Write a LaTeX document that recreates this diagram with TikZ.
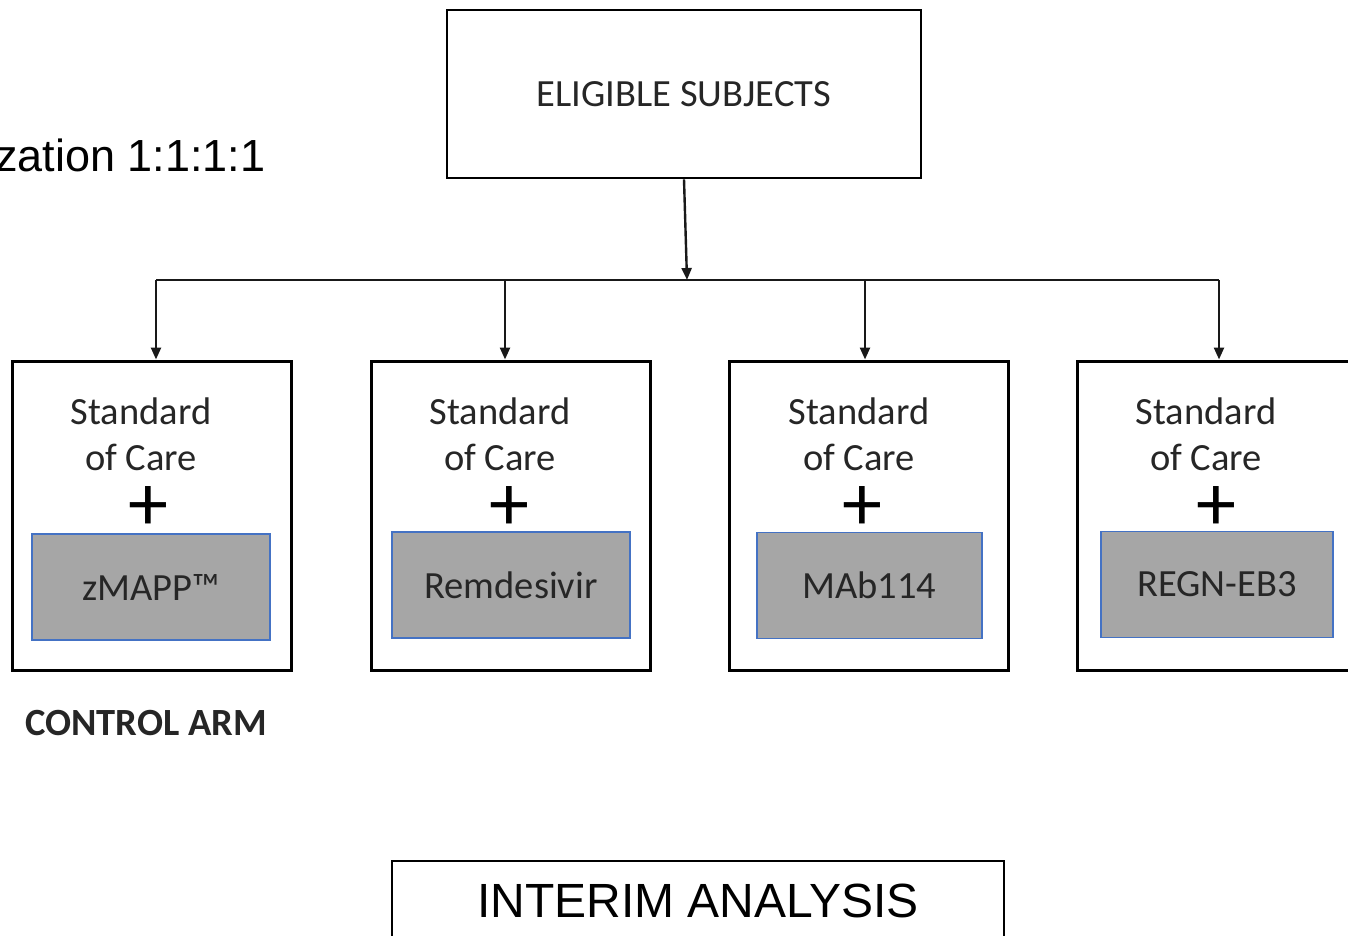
\documentclass[tikz,border=0pt]{standalone}
\usepackage{fontspec}
\setmainfont{Carlito}
\newfontfamily\arialfont{Liberation Sans}
\usetikzlibrary{arrows.meta}
\definecolor{drugfill}{HTML}{A6A6A6}
\definecolor{drugline}{HTML}{4472C4}
\definecolor{inktext}{HTML}{262626}
\tikzset{
    link/.style={line width=2.4pt, draw=black!90},
    arrowlink/.style={link, -{Triangle[length=12pt, width=10pt]}},
    topbox/.style={draw, line width=2.6pt, minimum width=474pt, minimum height=168pt,
        text=inktext, font=\fontsize{38.5}{46}\selectfont},
    armbox/.style={draw, line width=3pt, minimum width=279pt, minimum height=309pt},
    drugbox/.style={draw=drugline, line width=1.4pt, fill=drugfill, text=inktext,
        minimum width=#1, minimum height=106pt, font=\fontsize{38.5}{46}\selectfont},
    soc/.style={align=center, text=inktext, font=\fontsize{38.5}{46}\selectfont},
    plus/.style={font=\fontsize{80}{80}\selectfont, inner sep=0pt, anchor=base},
}
\begin{document}
\begin{tikzpicture}[x=1pt, y=-1pt]
    \useasboundingbox (0,0) rectangle (1348,936);
    \clip (0,0) rectangle (1348,936);
    % top of the flow
    \node[topbox] (elig) at (684,94) {ELIGIBLE SUBJECTS};
    \node[anchor=east, font=\arialfont\fontsize{45}{54}\selectfont] (rand) at (269,155) {Randomization 1:1:1:1};
    % arms
    \node[armbox] (arm1) at (151.5,515.5) {};
    \node[armbox] (arm2) at (510.5,515.5) {};
    \node[armbox] (arm3) at (869,515.5) {};
    \node[armbox] (arm4) at (1216.5,515.5) {};
    \foreach \i/\x in {1/141, 2/500, 3/859, 4/1206}{
        \node[soc] (soc\i) at (\x,434) {Standard\\of Care};
    }
    \foreach \i/\x in {1/148, 2/509, 3/862, 4/1216}{
        \node[plus] (plus\i) at (\x,530) {+};
    }
    \node[drugbox=238pt] (drug1) at (151,587) {zMAPP™};
    \node[drugbox=238pt] (drug2) at (511,585) {Remdesivir};
    \node[drugbox=225pt] (drug3) at (869.5,585.5) {MAb114};
    \node[drugbox=232pt] (drug4) at (1217,584.5) {REGN-EB3};
    \node[text=inktext, font=\bfseries\fontsize{38.5}{46}\selectfont] (ctrl) at (146,723) {CONTROL ARM};
    % bottom
    \node[draw, line width=1.6pt, minimum width=612pt, minimum height=110pt] (interim) at (698,916) {};
    \node[font=\arialfont\fontsize{48}{56}\selectfont] (interimtxt) at (698,901) {INTERIM ANALYSIS};
    % connectors
    \coordinate (split) at (687,280);
    \foreach \i/\x in {1/156, 2/505, 3/865, 4/1219}{
        \coordinate (j\i) at (\x,280);
    }
    \draw[arrowlink] (elig.south) -- (split);
    \draw[link] (j1) -- (j4);
    \foreach \i in {1,...,4}{
        \draw[arrowlink] (j\i) -- (j\i |- arm\i.north);
    }
\end{tikzpicture}
\end{document}
